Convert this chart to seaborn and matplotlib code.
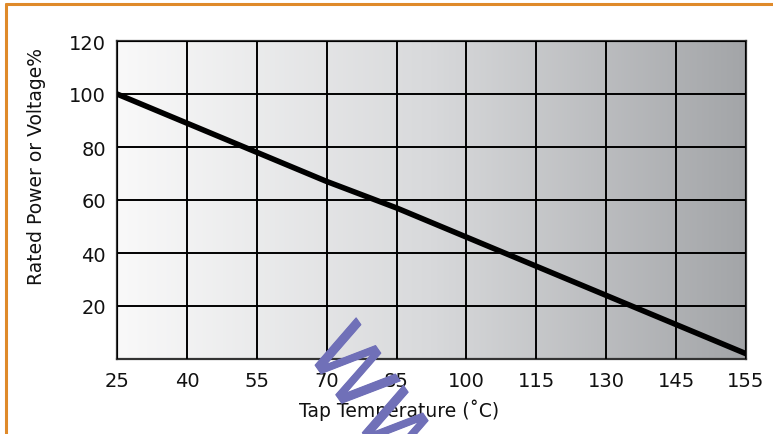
from matplotlib import pyplot as plt
from matplotlib.lines import Line2D
from matplotlib.colors import LinearSegmentedColormap
import matplotlib.patheffects as pe
import seaborn as sns
import numpy as np
import pandas as pd


sns.set_style("white")
plt.rcParams['font.family'] = ['DejaVu Sans']

# Data (x ticks are evenly spaced categories)
temp_labels = ['25', '40', '55', '70', '85', '100', '115', '130', '145', '155']
rated_pct = [100, 89, 78, 67, 57, 46, 35, 24, 13, 2]
y_ticks = [20, 40, 60, 80, 100, 120]

df = pd.DataFrame({'pos': np.arange(len(temp_labels)), 'rated': rated_pct})

fig = plt.figure(figsize=(7.73, 4.35), dpi=100)
ax = fig.add_axes([117 / 773, 1 - 360 / 435, 629 / 773, 318 / 435])

# Gradient background
grad_cmap = LinearSegmentedColormap.from_list('bg', ['#f9f9f9', '#d8d9db', '#a3a5a8'])
ax.imshow(np.linspace(0, 1, 256).reshape(1, -1), cmap=grad_cmap, aspect='auto',
          extent=(0, len(temp_labels) - 1, 0, 120), zorder=0)

sns.lineplot(data=df, x='pos', y='rated', color='black', linewidth=4,
             solid_capstyle='butt', ax=ax, zorder=3)

ax.set_xlim(0, len(temp_labels) - 1)
ax.set_ylim(0, 120)
ax.set_xticks(df['pos'])
ax.set_xticklabels(temp_labels)
ax.set_yticks(y_ticks)
ax.tick_params(axis='both', length=0, labelsize=14, colors='#111111')
ax.tick_params(axis='x', pad=9)
ax.tick_params(axis='y', pad=8)

ax.grid(True, color='black', linewidth=1.4, zorder=1)
ax.set_axisbelow(False)
for s in ax.spines.values():
    s.set_color('#333333')
    s.set_linewidth(1.6)

ax.set_xlabel('Tap Temperature (˚C)', fontsize=13.5, color='#111111')
ax.set_ylabel('Rated Power or Voltage%', fontsize=13.5, color='#111111')
ax.xaxis.set_label_coords(0.448, -0.123)
ax.yaxis.set_label_coords(-0.113, 0.607)

# Watermark
wm_color = '#7070b8'
fig.text(0.511, -0.01, 'WWW', fontsize=60, color=wm_color,
         rotation=-55, ha='center', va='center', zorder=10,
         path_effects=[pe.Stroke(linewidth=0.8, foreground=wm_color), pe.Normal()])

# Orange frame (top and left)
fig.add_artist(Line2D([6 / 773, 1], [1 - 5 / 435, 1 - 5 / 435], color='#df8a2a', linewidth=2.2))
fig.add_artist(Line2D([6 / 773, 6 / 773], [0, 1 - 5 / 435], color='#df8a2a', linewidth=2.2))

plt.savefig('out.png', dpi=100)
